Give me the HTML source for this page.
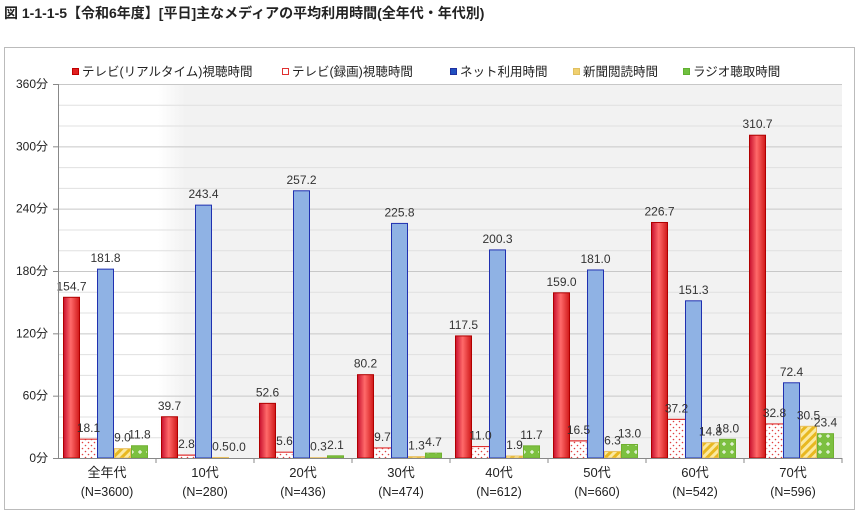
<!DOCTYPE html>
<html><head><meta charset="utf-8">
<style>
body{margin:0;background:#fff;width:860px;height:517px;overflow:hidden;font-family:"Liberation Sans","Noto Sans CJK JP",sans-serif;}
svg{display:block}
text{font-family:"Liberation Sans","Noto Sans CJK JP",sans-serif;}
</style></head><body>
<svg id="c" width="860" height="517" xmlns="http://www.w3.org/2000/svg">
<defs>
<linearGradient id="gRed" x1="0" x2="1"><stop offset="0" stop-color="#c8102e"/><stop offset="0.45" stop-color="#ff6a6a"/><stop offset="1" stop-color="#d01818"/></linearGradient>
<linearGradient id="gBg" x1="0" x2="1"><stop offset="0" stop-color="#fff"/><stop offset="0.04" stop-color="#f2f2f2"/><stop offset="1" stop-color="#f2f2f2"/></linearGradient>
<pattern id="pDot" width="6" height="6" patternUnits="userSpaceOnUse"><rect width="6" height="6" fill="#fff"/><circle cx="1.5" cy="1.5" r="0.8" fill="#e04040"/><circle cx="4.5" cy="4.5" r="0.8" fill="#e04040"/></pattern>
<pattern id="pStripe" width="6" height="6" patternUnits="userSpaceOnUse" patternTransform="rotate(45)"><rect width="6" height="6" fill="#fbe9a0"/><rect width="3" height="6" fill="#e8b820"/></pattern>
<pattern id="pPlus" width="8" height="8" patternUnits="userSpaceOnUse"><rect width="8" height="8" fill="#7cc040"/><rect x="3.5" y="2" width="1" height="4" fill="#fff"/><rect x="2" y="3.5" width="4" height="1" fill="#fff"/></pattern>
</defs>
<text x="4" y="18" font-size="14" font-weight="bold" fill="#222">図 1-1-1-5【令和6年度】[平日]主なメディアの平均利用時間(全年代・年代別)</text>
<rect x="4.5" y="47.5" width="850" height="462" fill="#fff" stroke="#bbb"/>
<rect x="158" y="84" width="684" height="374" fill="url(#gBg)"/>
<g id="legend" font-size="12.5" fill="#222"></g>
<g id="grid"></g><g id="bars"></g><g id="labels"></g><g id="axes"></g>
</svg>
<script>
const categories=["全年代","10代","20代","30代","40代","50代","60代","70代"];
const nLabels=["(N=3600)","(N=280)","(N=436)","(N=474)","(N=612)","(N=660)","(N=542)","(N=596)"];
const seriesNames=["テレビ(リアルタイム)視聴時間","テレビ(録画)視聴時間","ネット利用時間","新聞閲読時間","ラジオ聴取時間"];
const tvReal=[154.7,39.7,52.6,80.2,117.5,159.0,226.7,310.7];
const tvRec=[18.1,2.8,5.6,9.7,11.0,16.5,37.2,32.8];
const net=[181.8,243.4,257.2,225.8,200.3,181.0,151.3,72.4];
const paper=[9.0,0.5,0.3,1.3,1.9,6.3,14.8,30.5];
const radio=[11.8,0.0,2.1,4.7,11.7,13.0,18.0,23.4];
const yTicks=[0,60,120,180,240,300,360];
const series=[tvReal,tvRec,net,paper,radio];
const fills=["url(#gRed)","url(#pDot)","#8fb2e4","url(#pStripe)","url(#pPlus)"];
const strokes=["#b00000","#e03030","#2030b0","#e8c060","#70b030"];
const legendCol=["#e02020","#fff","#2050c0","#f0d070","#70c040"];
const legendStroke=["#c00000","#e03030","#2030a0","#e0c060","#60b030"];
const x0=58,x1=842,yTop=84,yBot=458,yMax=360;
const gw=(x1-x0)/categories.length;
const y=v=>yBot-v/yMax*(yBot-yTop);
const gx=i=>x0+i*gw;
const NS="http://www.w3.org/2000/svg";
function mk(tag,attrs,parent,txt){const e=document.createElementNS(NS,tag);for(const k in attrs)e.setAttribute(k,attrs[k]);if(txt!==undefined)e.textContent=txt;parent.appendChild(e);return e;}
const G=document.getElementById("grid"),B=document.getElementById("bars"),L=document.getElementById("labels"),A=document.getElementById("axes"),LG=document.getElementById("legend");
for(let v=20;v<=yMax;v+=20){const l=mk("line",{x1:x0,x2:x1,y1:y(v)+0.5,y2:y(v)+0.5,stroke:v%60===0?"#c8c8c8":"#e0e0e0","stroke-width":1},G);

}
yTicks.forEach(v=>{const t=mk("text",{x:x0-10,y:y(v)+4,"text-anchor":"end","font-size":12,fill:"#222"},A,v+"分");


mk("line",{x1:x0-5,x2:x0,y1:y(v)+0.5,y2:y(v)+0.5,stroke:"#888"},A);});
const ax=mk("line",{x1:x0+0.5,x2:x0+0.5,y1:yTop,y2:yBot,stroke:"#888"},A);


const xa=mk("line",{x1:x0,x2:x1,y1:yBot+0.5,y2:yBot+0.5,stroke:"#888"},A);


const bw=17,pad=5;
categories.forEach((c,i)=>{
  mk("line",{x1:gx(i+1),x2:gx(i+1),y1:yBot,y2:yBot+5,stroke:"#888"},A);
  const cx=gx(i)+gw/2;
  const t=mk("text",{x:cx,y:yBot+19,"text-anchor":"middle","font-size":13,fill:"#222"},A,c);
  
  
  const t2=mk("text",{x:cx,y:yBot+38,"text-anchor":"middle","font-size":12.5,fill:"#222"},A,nLabels[i]);
  
  
  series.forEach((s,k)=>{
    const v=s[i],bx=gx(i)+pad+k*bw,by=y(v),h=yBot-by;
    const r=mk("rect",{x:bx+0.5,y:by,width:bw-1,height:Math.max(h,0),fill:fills[k],stroke:strokes[k],"stroke-width":k===1?0:1},B);
    
    
    if(k===1) mk("line",{x1:bx,x2:bx+bw,y1:by,y2:by,stroke:"#e03030","stroke-width":1.2},B);
    const lb=mk("text",{x:bx+bw/2,y:by-7,"text-anchor":"middle","font-size":12,fill:"#333"},L,v.toFixed(1));
    
    
  });
});
const legX=[72,282,450,573,683];
seriesNames.forEach((n,k)=>{
  const g=mk("g",{},LG);
  
  
  mk("rect",{x:legX[k]+0.5,y:68.5,width:6,height:6,fill:legendCol[k],stroke:legendStroke[k]},g);
  mk("text",{x:legX[k]+10,y:76,"font-size":12.5,fill:"#222"},g,n);
});
</script>
</body></html>
